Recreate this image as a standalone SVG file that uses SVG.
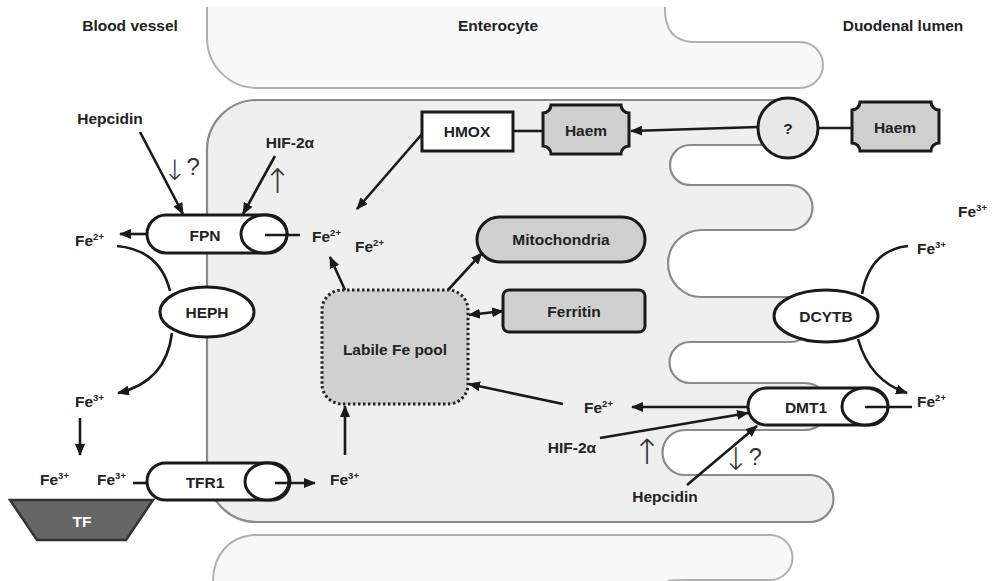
<svg xmlns="http://www.w3.org/2000/svg" width="996" height="581" viewBox="0 0 996 581">
<defs>
<marker id="ah" viewBox="0 0 12 10" refX="11" refY="5" markerWidth="12" markerHeight="10" markerUnits="userSpaceOnUse" orient="auto-start-reverse">
<path d="M0,0 L12,5 L0,10 Z" fill="#1a1a1a"/>
</marker>
<style>
text{font-family:"Liberation Sans",Arial,sans-serif;font-weight:bold;font-size:15.5px;fill:#222}
.c{text-anchor:middle}
.sup{font-size:9.5px}
.sym{font-family:"DejaVu Sans",sans-serif;font-weight:200;font-size:31px;fill:#333}
.q{font-family:"Liberation Sans",Arial,sans-serif;font-weight:normal;font-size:24px;fill:#333}
.ln{fill:none;stroke:#1a1a1a;stroke-width:2.6}
.ar{fill:none;stroke:#1a1a1a;stroke-width:2.6;marker-end:url(#ah)}
.node{stroke:#1a1a1a;stroke-width:3}
.white{fill:#fff}
.grey{fill:#cfcfcf}
</style>
</defs>
<rect width="996" height="581" fill="#fff"/>
<g id="cells">
<path d="M207 7 L207 38 A50 50 0 0 0 257 88 L800 88 A23 23 0 0 0 800 42 L692 42 Q664 40 665 7" fill="#f8f8f8" stroke="#b0b0b0" stroke-width="2"/>
<path d="M213 581 C213 555 230 535 257 535 L770 535 A22.5 22.5 0 0 1 770 580 L690 580 Q670 580 668 581" fill="#f8f8f8" stroke="#b0b0b0" stroke-width="2"/>
<path d="M207 150 A50 50 0 0 1 257 100 L785 100 A22.5 22.5 0 0 1 785 145 L690 145 A20 20 0 0 0 690 185 L790 185 A22.5 22.5 0 0 1 790 230 L701.5 230 A33.5 33.5 0 0 0 701.5 297 L790 297 A22.5 22.5 0 0 1 790 342 L690 342 A20.5 20.5 0 0 0 690 383 L805 383 A23.5 23.5 0 0 1 805 430 L685 430 A22.5 22.5 0 0 0 685 475 L810 475 A23.5 23.5 0 0 1 810 522 L257 522 A50 50 0 0 1 207 472 Z" fill="#efefef" stroke="#8a8a8a" stroke-width="2.2"/>
</g>
<g id="headers">
<text class="c" x="130" y="31">Blood vessel</text>
<text class="c" x="498" y="31">Enterocyte</text>
<text class="c" x="903" y="31">Duodenal lumen</text>
</g>
<g id="connectors">
<line class="ar" x1="140" y1="132" x2="183" y2="214"/>
<line class="ar" x1="275" y1="156" x2="243" y2="214"/>
<line class="ar" x1="422" y1="134" x2="357" y2="209"/>
<line class="ar" x1="147" y1="234" x2="120" y2="234"/>
<path class="ln" d="M117 246 Q160 250 170 291"/>
<path class="ar" d="M172 333 Q166 382 118 393"/>
<line class="ar" x1="80" y1="418" x2="80" y2="455"/>
<line class="ln" x1="133" y1="483" x2="147" y2="483"/>
<line class="ar" x1="275" y1="483" x2="315" y2="483"/>
<line class="ar" x1="345" y1="455" x2="345" y2="406"/>
<line class="ar" x1="345" y1="290" x2="330" y2="257"/>
<line class="ar" x1="448" y1="290" x2="482" y2="253"/>
<line class="ar" x1="469" y1="315" x2="503" y2="311" marker-start="url(#ah)"/>
<line class="ar" x1="563" y1="404" x2="469" y2="384"/>
<line class="ar" x1="748" y1="407" x2="632" y2="407"/>
<line class="ar" x1="600" y1="438" x2="748" y2="413"/>
<line class="ar" x1="687" y1="485" x2="757" y2="426"/>
<line class="ln" x1="513" y1="131" x2="543" y2="131"/>
<line class="ar" x1="758" y1="127" x2="631" y2="131"/>
<line class="ln" x1="818" y1="128" x2="852" y2="128"/>
<path class="ln" d="M908 246 Q870 250 862 294"/>
<path class="ar" d="M858 339 Q870 381 907 393"/>
</g>
<g id="regulation">
<text x="163" y="180"><tspan class="sym" style="font-size:28px">↓</tspan><tspan class="q" dy="-5">?</tspan></text>
<text class="sym c" x="277.5" y="193" style="font-size:34px">↑</text>
<text class="sym c" x="647" y="464" style="font-size:35px">↑</text>
<text x="723" y="470"><tspan class="sym">↓</tspan><tspan class="q" dy="-5" style="font-size:23px">?</tspan></text>
<text class="c" x="110" y="124">Hepcidin</text>
<text class="c" x="290" y="148">HIF-2α</text>
<text class="c" x="572" y="453">HIF-2α</text>
<text class="c" x="665" y="502">Hepcidin</text>
</g>
<g id="FPN">
<rect class="node white" x="147" y="215" width="140" height="38" rx="19"/>
<ellipse class="node white" cx="264" cy="234" rx="23" ry="19"/>
<line class="ln" x1="265" y1="235" x2="300" y2="235"/>
<text class="c" x="205" y="241">FPN</text>
</g>
<g id="HEPH">
<ellipse class="node white" cx="207" cy="312" rx="47" ry="25"/>
<text class="c" x="207" y="318">HEPH</text>
</g>
<g id="TFR1">
<rect class="node white" x="147" y="463" width="143" height="37" rx="18.5"/>
<ellipse class="node white" cx="267" cy="481.5" rx="22" ry="18.5"/>
<line class="ln" x1="275" y1="483" x2="290" y2="483"/>
<text class="c" x="205" y="488">TFR1</text>
</g>
<g id="TF">
<path d="M10 500 L153 500 L126 540 L37 540 Z" fill="#666" stroke="#333" stroke-width="2.5"/>
<text class="c" x="82" y="527" style="fill:#fff">TF</text>
</g>
<g id="pool">
<rect x="322" y="290" width="146" height="114" rx="20" fill="#d0d0d0" stroke="#222" stroke-width="3" stroke-dasharray="2.5 2.5"/>
<text class="c" x="395" y="355">Labile Fe pool</text>
</g>
<g id="mitochondria">
<rect class="node grey" x="477" y="217" width="168" height="45" rx="22.5"/>
<text class="c" x="561" y="245">Mitochondria</text>
</g>
<g id="ferritin">
<rect class="node grey" x="503" y="290" width="142" height="42" rx="6"/>
<text class="c" x="574" y="317">Ferritin</text>
</g>
<g id="HMOX">
<rect class="node white" x="422" y="112" width="91" height="39"/>
<text class="c" x="467" y="137">HMOX</text>
</g>
<g id="haem-in">
<path class="node grey" d="M551 105 L621 105 A8 8 0 0 0 629 113 L629 146 A8 8 0 0 0 621 154 L551 154 A8 8 0 0 0 543 146 L543 113 A8 8 0 0 0 551 105 Z"/>
<text class="c" x="586" y="136">Haem</text>
</g>
<g id="transporter">
<circle class="node" cx="788" cy="128" r="30" fill="#e8e8e8"/>
<text class="c" x="788" y="134">?</text>
</g>
<g id="haem-out">
<path class="node grey" d="M860 102 L931 102 A8 8 0 0 0 939 110 L939 143 A8 8 0 0 0 931 151 L860 151 A8 8 0 0 0 852 143 L852 110 A8 8 0 0 0 860 102 Z"/>
<text class="c" x="895" y="133">Haem</text>
</g>
<g id="DCYTB">
<ellipse class="node white" cx="826" cy="316" rx="52" ry="26"/>
<text class="c" x="826" y="322">DCYTB</text>
</g>
<g id="DMT1">
<rect class="node white" x="748" y="388" width="140" height="37" rx="18.5"/>
<ellipse class="node white" cx="865" cy="406.5" rx="23" ry="18.5"/>
<line class="ln" x1="865" y1="407" x2="912" y2="407"/>
<text class="c" x="806" y="413">DMT1</text>
</g>
<g id="iron">
<text x="75" y="246">Fe<tspan class="sup" dy="-6">2+</tspan></text>
<text x="312" y="242">Fe<tspan class="sup" dy="-6">2+</tspan></text>
<text x="355" y="252">Fe<tspan class="sup" dy="-6">2+</tspan></text>
<text x="75" y="407">Fe<tspan class="sup" dy="-6">3+</tspan></text>
<text x="40" y="485">Fe<tspan class="sup" dy="-6">3+</tspan></text>
<text x="97" y="485">Fe<tspan class="sup" dy="-6">3+</tspan></text>
<text x="330" y="485">Fe<tspan class="sup" dy="-6">3+</tspan></text>
<text x="958" y="217">Fe<tspan class="sup" dy="-6">3+</tspan></text>
<text x="917" y="254">Fe<tspan class="sup" dy="-6">3+</tspan></text>
<text x="917" y="407">Fe<tspan class="sup" dy="-6">2+</tspan></text>
<text x="584" y="413">Fe<tspan class="sup" dy="-6">2+</tspan></text>
</g>
</svg>
